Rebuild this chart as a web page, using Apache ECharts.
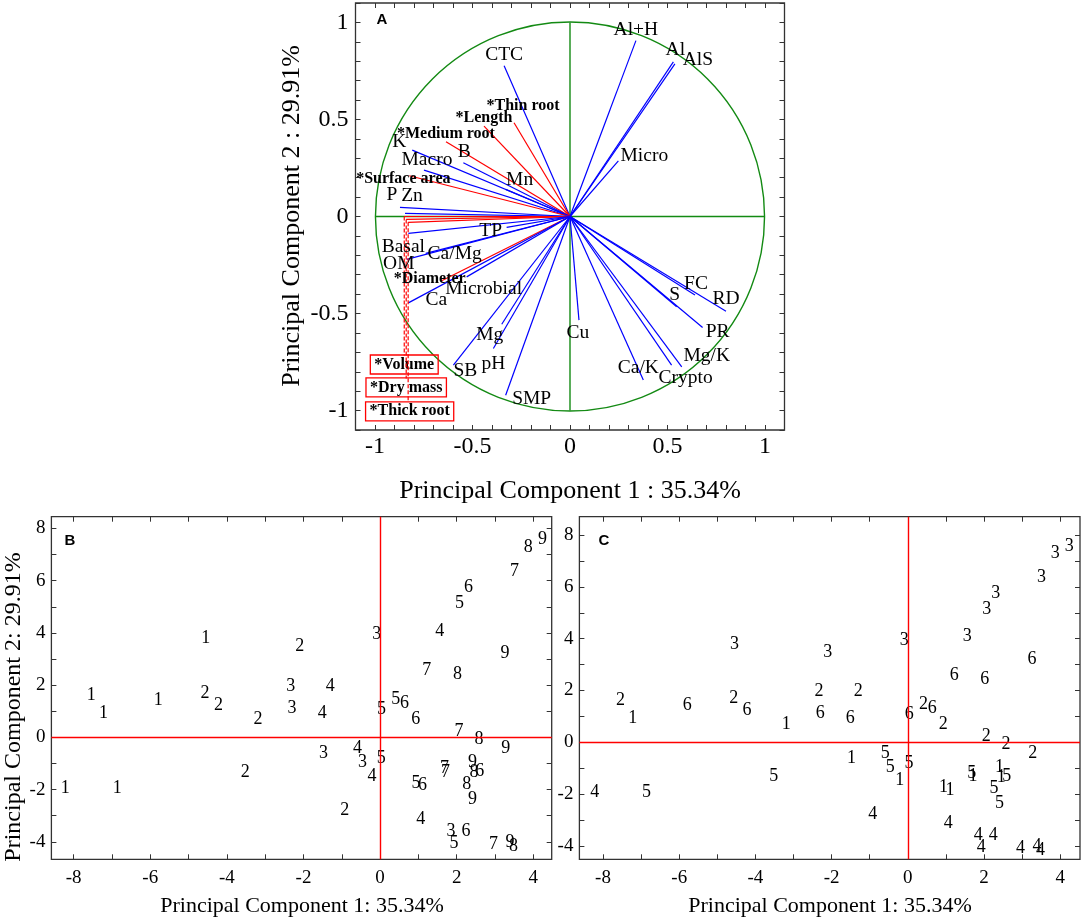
<!DOCTYPE html>
<html><head><meta charset="utf-8">
<script src="https://cdn.jsdelivr.net/npm/echarts@6/dist/echarts.min.js"></script>
<style>html,body{margin:0;padding:0;background:#fff}#c{width:1084px;height:921px}</style>
</head><body><div id="c"></div>
<script>
// ---------------- DATA ----------------
// Panel A: variable loadings (PC1, PC2)
const loadingNames = ['Al+H','Al','AlS','Micro','CTC','*Thin root','*Length','*Medium root','K','B','Macro','Mn','*Surface area','P','Zn','*Volume','*Dry mass','*Thick root','TP','Basal','Ca/Mg','OM','*Diameter','Microbial','Ca','Mg','pH','SB','SMP','Cu','Ca/K','Crypto','Mg/K','PR','RD','FC','S'];
const loadingPC1 = [0.338,0.530,0.538,0.248,-0.338,-0.287,-0.441,-0.636,-0.809,-0.547,-0.749,-0.330,-0.824,-0.872,-0.846,-0.850,-0.840,-0.830,-0.325,-0.829,-0.740,-0.837,-0.658,-0.530,-0.829,-0.350,-0.393,-0.598,-0.330,0.046,0.376,0.521,0.573,0.680,0.800,0.641,0.547];
const loadingPC2 = [0.906,0.797,0.786,0.287,0.777,0.483,0.466,0.385,0.342,0.277,0.239,0.140,0.210,0.047,0.016,0.000,-0.015,-0.030,-0.056,-0.087,-0.190,-0.221,-0.331,-0.311,-0.445,-0.555,-0.680,-0.766,-0.921,-0.534,-0.843,-0.766,-0.775,-0.572,-0.488,-0.405,-0.465];
const loadingKind = ['soil','soil','soil','soil','soil','root','root','root','soil','soil','soil','soil','root','soil','soil','root','root','root','soil','soil','soil','soil','root','soil','soil','soil','soil','soil','soil','soil','soil','soil','soil','soil','soil','soil','soil'];
const boxedNames = ['*Volume','*Dry mass','*Thick root'];
const circleRadius = [1];

// Panels B and C: sample scores (PC1, PC2) and group codes
const scorePC1 = [-4.55,-7.54,-7.22,-5.79,-8.22,-6.86, -2.10,-4.57,-4.22,-3.19,-3.52,-0.92, -0.09,-2.33,-2.30,-1.48,-0.46,1.85, 1.56,-1.30,-1.51,-0.59,-0.21,1.06, 2.07,0.41,0.04,0.03,0.94,1.93, 2.31,0.64,0.93,2.60,1.11,2.24, 3.51,1.22,2.06,1.68,1.71,2.96, 3.87,2.02,2.58,2.45,2.26,3.48, 4.24,3.26,3.28,2.41,2.41,3.39];
const scorePC2 = [3.80,1.62,0.92,1.43,-1.95,-1.95, 3.47,1.68,1.24,0.69,-1.32,-2.78, 3.95,1.96,1.11,-0.61,-0.97,-3.61, 4.08,1.96,0.92,-0.42,-1.48,-3.14, 5.12,1.45,1.07,-0.80,-1.74,-4.05, 5.74,1.30,0.70,-1.30,-1.85,-3.61, 6.36,2.57,0.24,-1.19,-1.32,-4.08, 7.29,2.42,-0.08,-1.35,-1.79,-4.18, 7.57,3.21,-0.42,-0.96,-2.36,-4.03];
const groupB = [1,1,1,1,1,1, 2,2,2,2,2,2, 3,3,3,3,3,3, 4,4,4,4,4,4, 5,5,5,5,5,5, 6,6,6,6,6,6, 7,7,7,7,7,7, 8,8,8,8,8,8, 9,9,9,9,9,9];
const groupC = [3,2,1,6,4,5, 3,2,6,1,5,4, 3,2,6,1,5,4, 3,2,6,5,1,4, 3,2,6,5,1,4, 3,6,2,5,1,4, 3,6,2,5,1,4, 3,6,2,1,5,4, 3,6,2,1,5,4];

// Tick values and tick labels
const loadingTicks = [-1.1,-1.0,-0.9,-0.8,-0.7,-0.6,-0.5,-0.4,-0.3,-0.2,-0.1,0,0.1,0.2,0.3,0.4,0.5,0.6,0.7,0.8,0.9,1.0,1.1];
const loadingTickLabels = [-1,-0.5,0,0.5,1];
const scoreXTicks = [-8,-7,-6,-5,-4,-3,-2,-1,0,1,2,3,4];
const scoreXTickLabels = [-8,-6,-4,-2,0,2,4];
const scoreYTicks = [-4,-3,-2,-1,0,1,2,3,4,5,6,7,8];
const scoreYTickLabels = [-4,-2,0,2,4,6,8];

// ---------------- STYLE ----------------
const SERIF = '"Liberation Serif","Times New Roman",serif';
const SANS = '"Liberation Sans",Arial,sans-serif';
const labelOffset = {
  'Al+H':[0,-11],'Al':[2,-12],'AlS':[23,-4],'Micro':[26,-5],'CTC':[0,-11],
  '*Thin root':[9,-17],'*Length':[0,-8],'*Medium root':[0,-8],'K':[-13,-8],'B':[1,-11],
  'Macro':[3,-10],'Mn':[14,-9],'*Surface area':[-6,3],'P':[-8,-13],'Zn':[7,-18],
  '*Volume':[0,148],'*Dry mass':[0,168],'*Thick root':[1.5,189],
  'TP':[-16,4],'Basal':[-5,13],'Ca/Mg':[29,0],'OM':[-8,4],'*Diameter':[-12,-2],'Microbial':[17,12],'Ca':[28,-3],
  'Mg':[-12,11],'pH':[0,15],'SB':[12,6],'SMP':[26,4],'Cu':[-1,13],'Ca/K':[-5,-12],'Crypto':[14,13],
  'Mg/K':[25,-11],'PR':[15,4],'RD':[0,-12],'FC':[1,-11],'S':[-2,-12]
};
const GREEN = '#138a13', BLUE = '#0000ff', RED = '#ff0000', FRAME = '#333';

const chart = echarts.init(document.getElementById('c'));

function makeAxes(gi, xr, yr, xT, xL, yT, yL, fs, xm, ym) {
  const base = {gridIndex: gi, type: 'value', splitLine: {show: false}, axisLine: {show: false, onZero: false}, axisPointer: {show: false}};
  const tick = vals => ({show: true, inside: true, length: 5, customValues: vals, lineStyle: {color: FRAME, width: 1}});
  const lab = (vals, m) => ({show: true, customValues: vals, margin: m, color: '#000', fontFamily: SERIF, fontSize: fs, formatter: v => String(v)});
  return {
    x: [
      Object.assign({}, base, {position: 'bottom', min: xr[0], max: xr[1], axisTick: tick(xT), axisLabel: lab(xL, xm)}),
      Object.assign({}, base, {position: 'top', min: xr[0], max: xr[1], axisTick: tick(xT), axisLabel: {show: false}})
    ],
    y: [
      Object.assign({}, base, {position: 'left', min: yr[0], max: yr[1], axisTick: tick(yT), axisLabel: lab(yL, ym)}),
      Object.assign({}, base, {position: 'right', min: yr[0], max: yr[1], axisTick: tick(yT), axisLabel: {show: false}})
    ]
  };
}

const aA = makeAxes(0, [-1.1, 1.1], [-1.1, 1.1], loadingTicks, loadingTickLabels, loadingTicks, loadingTickLabels, 24, 5, 7);
const aB = makeAxes(1, [-8.58, 4.48], [-4.67, 8.45], scoreXTicks, scoreXTickLabels, scoreYTicks, scoreYTickLabels, 19, 9, 6);
const aC = makeAxes(2, [-8.62, 4.52], [-4.52, 8.71], scoreXTicks, scoreXTickLabels, scoreYTicks, scoreYTickLabels, 19, 9, 6);

const gridBase = {show: true, borderColor: FRAME, borderWidth: 1.3, containLabel: false, outerBoundsMode: 'none'};

const vectorData = loadingNames.map((n, i) => [loadingPC1[i], loadingPC2[i]]);

function renderCircle(params, api) {
  const r = api.value(2);
  const c = api.coord([api.value(0), api.value(1)]);
  const s = api.size([r, r]);
  const L = api.coord([-r, 0]), R = api.coord([r, 0]), T = api.coord([0, r]), B = api.coord([0, -r]);
  const st = {stroke: GREEN, fill: null, lineWidth: 1.4};
  return {type: 'group', children: [
    {type: 'circle', shape: {cx: c[0], cy: c[1], r: (s[0] + s[1]) / 2}, style: st},
    {type: 'line', shape: {x1: L[0], y1: L[1], x2: R[0], y2: R[1]}, style: st},
    {type: 'line', shape: {x1: T[0], y1: T[1], x2: B[0], y2: B[1]}, style: st}
  ]};
}

function renderVector(params, api) {
  const i = params.dataIndex;
  const o = api.coord([0, 0]);
  const p = api.coord([api.value(0), api.value(1)]);
  return {type: 'line', shape: {x1: o[0], y1: o[1], x2: p[0], y2: p[1]},
    style: {stroke: loadingKind[i] === 'root' ? RED : BLUE, lineWidth: 1.2}};
}

function renderLabel(params, api) {
  const i = params.dataIndex;
  const name = loadingNames[i];
  const p = api.coord([api.value(0), api.value(1)]);
  const off = labelOffset[name] || [0, -10];
  const cx = p[0] + off[0], cy = p[1] + off[1];
  if (boxedNames.indexOf(name) >= 0) {
    return {type: 'group', children: [
      {type: 'line', shape: {x1: p[0], y1: p[1], x2: p[0], y2: cy - 9}, style: {stroke: RED, lineWidth: 1.2, lineDash: [4, 2]}},
      {type: 'text', x: cx, y: cy, style: {text: name, font: 'bold 16px ' + SERIF, fill: '#000', align: 'center', verticalAlign: 'middle',
        borderColor: RED, borderWidth: 1.3, padding: [2, 4, 1, 4]}}
    ]};
  }
  const isRoot = loadingKind[i] === 'root';
  return {type: 'text', x: cx, y: cy, style: {text: name, font: (isRoot ? 'bold 16px ' : '19.5px ') + SERIF, fill: '#000', align: 'center', verticalAlign: 'middle'}};
}

function renderScore(params, api) {
  const p = api.coord([api.value(0), api.value(1)]);
  return {type: 'text', x: p[0], y: p[1], style: {text: String(api.value(2)), font: '18px ' + SERIF, fill: '#000', align: 'center', verticalAlign: 'middle'}};
}

function scoreSeries(gi, groups) {
  return {
    type: 'custom', xAxisIndex: gi * 2, yAxisIndex: gi * 2, renderItem: renderScore,
    data: scorePC1.map((x, i) => [x, scorePC2[i], groups[i]]),
    markLine: {silent: true, symbol: 'none', label: {show: false}, animation: false,
      lineStyle: {color: RED, width: 1.4, type: 'solid'}, data: [{xAxis: 0}, {yAxis: 0}]},
    silent: true, animation: false
  };
}

const option = {
  animation: false,
  backgroundColor: '#fff',
  grid: [
    Object.assign({left: 355.5, top: 3, width: 429, height: 427}, gridBase),
    Object.assign({left: 51.4, top: 516.7, width: 500.3, height: 342.6}, gridBase),
    Object.assign({left: 579.4, top: 516.7, width: 500.6, height: 342.6}, gridBase)
  ],
  xAxis: [].concat(aA.x, aB.x, aC.x),
  yAxis: [].concat(aA.y, aB.y, aC.y),
  series: [
    {type: 'custom', xAxisIndex: 0, yAxisIndex: 0, renderItem: renderCircle, data: [[0, 0, circleRadius[0]]], silent: true, z: 1},
    {type: 'custom', xAxisIndex: 0, yAxisIndex: 0, renderItem: renderVector, data: vectorData, silent: true, z: 2},
    {type: 'custom', xAxisIndex: 0, yAxisIndex: 0, renderItem: renderLabel, data: vectorData, silent: true, z: 3},
    scoreSeries(1, groupB),
    scoreSeries(2, groupC)
  ],
  graphic: [
    {type: 'text', x: 570, y: 491, style: {text: 'Principal Component 1 : 35.34%', font: '26px ' + SERIF, fill: '#000', align: 'center', verticalAlign: 'middle'}},
    {type: 'text', x: 292, y: 216, rotation: Math.PI / 2, style: {text: 'Principal Component 2 : 29.91%', font: '26px ' + SERIF, fill: '#000', align: 'center', verticalAlign: 'middle'}},
    {type: 'text', x: 302, y: 906, style: {text: 'Principal Component 1: 35.34%', font: '22px ' + SERIF, fill: '#000', align: 'center', verticalAlign: 'middle'}},
    {type: 'text', x: 830, y: 906, style: {text: 'Principal Component 1: 35.34%', font: '22px ' + SERIF, fill: '#000', align: 'center', verticalAlign: 'middle'}},
    {type: 'text', x: 14, y: 707, rotation: Math.PI / 2, style: {text: 'Principal Component 2: 29.91%', font: '24px ' + SERIF, fill: '#000', align: 'center', verticalAlign: 'middle'}},
    {type: 'text', x: 382, y: 20, style: {text: 'A', font: 'bold 15px ' + SANS, fill: '#000', align: 'center', verticalAlign: 'middle'}},
    {type: 'text', x: 70, y: 541, style: {text: 'B', font: 'bold 15px ' + SANS, fill: '#000', align: 'center', verticalAlign: 'middle'}},
    {type: 'text', x: 604, y: 541, style: {text: 'C', font: 'bold 15px ' + SANS, fill: '#000', align: 'center', verticalAlign: 'middle'}}
  ]
};
chart.setOption(option);
</script>
</body></html>
